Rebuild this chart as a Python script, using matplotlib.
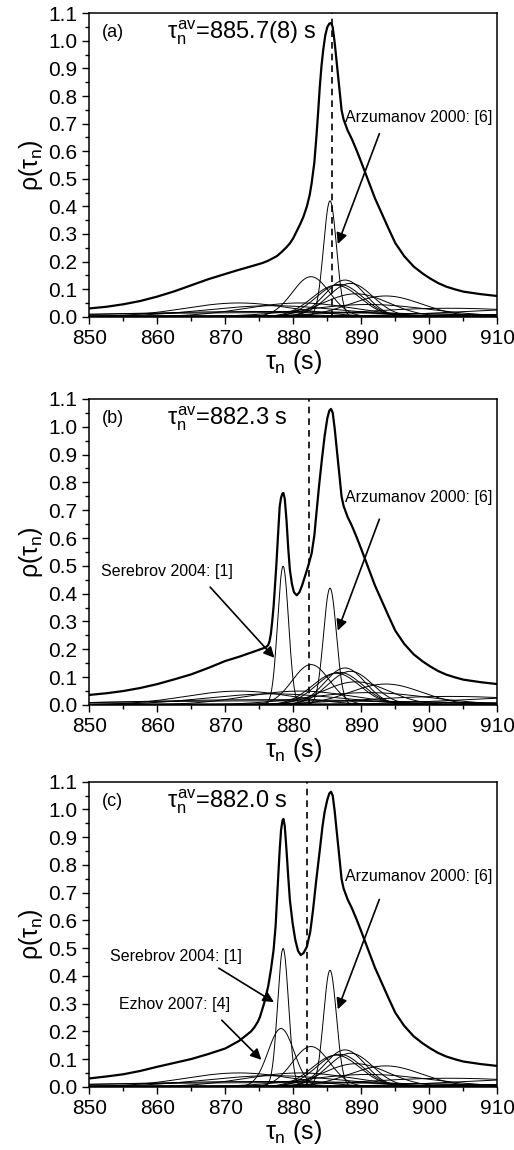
import numpy as np
import matplotlib
matplotlib.use('Agg')
import matplotlib.pyplot as plt
from matplotlib.ticker import MultipleLocator, FormatStrFormatter

plt.rcParams['font.family'] = ['Liberation Sans', 'DejaVu Sans']
plt.rcParams['mathtext.fontset'] = 'custom'
plt.rcParams['mathtext.rm'] = 'Liberation Sans'
plt.rcParams['mathtext.it'] = 'Liberation Sans'
plt.rcParams['mathtext.bf'] = 'Liberation Sans:bold'

# individual lifetime measurements (tau, sigma) drawn in every panel
tau_common = [872.0, 877.0, 881.0, 876.0, 878.0, 891.0, 903.0, 918.0, 937.0, 875.0,
              887.6, 882.6, 888.4, 886.8, 886.3, 889.2, 893.6, 885.4]
sig_common = [8.0, 10.0, 8.0, 21.0, 27.0, 9.0, 13.0, 14.0, 18.0, 95.0,
              3.0, 2.75, 3.3, 3.4, 3.5, 4.8, 5.3, 0.95]
# Serebrov 2004 and Ezhov 2007
tau_serebrov, sig_serebrov = 878.5, 0.80
tau_ezhov, sig_ezhov = 878.2, 1.9

# thick summed curves
tail_x = [886.1, 886.35, 886.6, 886.85, 887.1, 887.4, 887.7, 888.0, 888.6, 889.3, 890.0,
          891.0, 892.0, 893.0, 894.0, 895.0, 896.3, 897.7, 899.0, 900.1, 901.3, 902.5,
          903.8, 905.0, 907.5, 910.0]
tail_y = [0.991, 0.930, 0.870, 0.810, 0.749, 0.715, 0.695, 0.675, 0.645, 0.604, 0.560,
          0.495, 0.430, 0.375, 0.320, 0.267, 0.220, 0.182, 0.157, 0.139, 0.122, 0.109,
          0.099, 0.091, 0.082, 0.075]

xa = [850, 852.5, 855, 857.5, 860, 862.5, 865, 867.5, 870, 872, 874, 875.5, 876.3, 877,
      877.6, 878.3, 879, 879.5, 880, 880.5, 881, 881.5, 882, 882.4, 882.7, 883.1, 883.4,
      883.65, 883.9, 884.15, 884.4, 884.7, 885.0, 885.3, 885.55, 885.8] + tail_x
ya = [0.030, 0.036, 0.045, 0.057, 0.073, 0.092, 0.114, 0.136, 0.155, 0.170, 0.184, 0.195,
      0.203, 0.212, 0.220, 0.235, 0.252, 0.266, 0.285, 0.310, 0.335, 0.363, 0.400, 0.440,
      0.484, 0.560, 0.653, 0.740, 0.834, 0.910, 0.967, 1.020, 1.050, 1.063, 1.065,
      1.050] + tail_y

xb = [850, 852.5, 855, 857.5, 860, 862.5, 865, 867.5, 870, 872, 874, 875.5, 876.0, 876.3,
      876.5, 876.7, 876.9, 877.1, 877.3, 877.5, 877.8, 878.0, 878.2, 878.4, 878.55,
      878.75, 879.0, 879.25, 879.5, 879.8, 880.1, 880.5, 880.9, 881.3, 881.7, 882.2,
      882.7, 883.1, 883.4, 883.8, 884.2, 884.6, 885.0, 885.3, 885.55, 885.8] + tail_x
yb = [0.036, 0.042, 0.050, 0.061, 0.075, 0.092, 0.110, 0.133, 0.158, 0.173, 0.190, 0.203,
      0.208, 0.215, 0.228, 0.255, 0.300, 0.353, 0.425, 0.500, 0.629, 0.713, 0.745, 0.760,
      0.762, 0.740, 0.665, 0.565, 0.485, 0.435, 0.405, 0.394, 0.405, 0.430, 0.461, 0.500,
      0.545, 0.610, 0.689, 0.790, 0.881, 0.965, 1.030, 1.058, 1.064, 1.050] + tail_y

xc = [850, 852.5, 855, 857.5, 860, 862.5, 865, 867.5, 870, 872, 873.1, 873.8, 874.3,
      874.8, 875.1, 875.7, 876.3, 876.7, 877.1, 877.4, 877.6, 877.8, 878.0, 878.2, 878.4,
      878.55, 878.75, 879.0, 879.25, 879.5, 879.9, 880.3, 880.7, 881.1, 881.5, 882.0,
      882.5, 882.9, 883.4, 883.9, 884.3, 884.6, 885.0, 885.3, 885.55, 885.8] + tail_x
yc = [0.030, 0.037, 0.045, 0.057, 0.072, 0.086, 0.100, 0.118, 0.138, 0.165, 0.186, 0.200,
      0.215, 0.235, 0.252, 0.300, 0.361, 0.420, 0.493, 0.580, 0.673, 0.765, 0.854, 0.925,
      0.960, 0.966, 0.940, 0.854, 0.760, 0.673, 0.590, 0.529, 0.490, 0.475, 0.482, 0.505,
      0.560, 0.637, 0.750, 0.854, 0.940, 0.990, 1.035, 1.058, 1.064, 1.050] + tail_y

tau_av = [885.7, 882.3, 882.0]
av_text = ['=885.7(8) s', '=882.3 s', '=882.0 s']
panel_tags = ['(a)', '(b)', '(c)']


def gauss(x, mu, s):
    return np.exp(-0.5 * ((x - mu) / s) ** 2) / (s * np.sqrt(2 * np.pi))


fig = plt.figure(figsize=(5.14, 11.5), dpi=100)
boxes = [[0.1737, 0.7246, 0.7938, 0.2638],
         [0.1737, 0.3870, 0.7938, 0.2661],
         [0.1737, 0.0550, 0.7938, 0.2652]]
thick = [(xa, ya), (xb, yb), (xc, yc)]

x = np.linspace(850, 910, 1200)

for i in range(3):
    ax = fig.add_axes(boxes[i])
    taus = list(tau_common)
    sigs = list(sig_common)
    if i >= 1:
        taus.append(tau_serebrov)
        sigs.append(sig_serebrov)
    if i == 2:
        taus.append(tau_ezhov)
        sigs.append(sig_ezhov)
    for mu, s in zip(taus, sigs):
        ax.plot(x, gauss(x, mu, s), color='k', lw=0.7)
    ax.plot(thick[i][0], thick[i][1], color='k', lw=1.6, solid_joinstyle='round')
    ax.axvline(tau_av[i], color='k', lw=1.2, ls=(0, (4, 3)))

    ax.set_xlim(850, 910)
    ax.set_ylim(0, 1.1)
    ax.xaxis.set_major_locator(MultipleLocator(10))
    ax.xaxis.set_minor_locator(MultipleLocator(5))
    ax.yaxis.set_major_locator(MultipleLocator(0.1))
    ax.yaxis.set_minor_locator(MultipleLocator(0.05))
    ax.yaxis.set_major_formatter(FormatStrFormatter('%.1f'))
    ax.tick_params(which='both', direction='out', top=False, right=False,
                   labelsize=15, width=1.0)
    ax.tick_params(which='major', length=5)
    ax.tick_params(which='minor', length=3)
    for sp in ax.spines.values():
        sp.set_linewidth(1.1)

    ax.set_xlabel(r'$\tau_n$ (s)', fontsize=18, labelpad=0)
    ax.set_ylabel(r'$\rho$($\tau_n$)', fontsize=18, labelpad=2)

    ax.text(851.8, 1.03, panel_tags[i], fontsize=13, va='center', ha='left')
    ax.text(861.4, 1.03, r'$\tau_n^{\mathrm{av}}$' + av_text[i], fontsize=17,
            va='center', ha='left')

    arrow = dict(arrowstyle='-|>', color='k', lw=1.2, mutation_scale=16)
    ay = [0.724, 0.747, 0.757][i]
    ax.text(887.6, ay, 'Arzumanov 2000: [6]', fontsize=11.5, va='center', ha='left')
    ax.annotate('', xy=(886.4, [0.254, 0.258, 0.270][i]),
                xytext=(892.8, [0.673, 0.677, 0.685][i]), arrowprops=arrow)
    if i >= 1:
        sy = [0, 0.479, 0.469][i]
        ax.text([0, 851.7, 853.1][i], sy, 'Serebrov 2004: [1]', fontsize=11.5,
                va='center', ha='left')
        ax.annotate('', xy=(877.5, [0, 0.162, 0.30][i]),
                    xytext=([0, 867.5, 868.7][i], [0, 0.431, 0.433][i]),
                    arrowprops=arrow)
    if i == 2:
        ax.text(854.4, 0.295, 'Ezhov 2007: [4]', fontsize=11.5, va='center', ha='left')
        ax.annotate('', xy=(875.6, 0.090), xytext=(869.2, 0.247), arrowprops=arrow)

fig.savefig('out.png', dpi=100)
